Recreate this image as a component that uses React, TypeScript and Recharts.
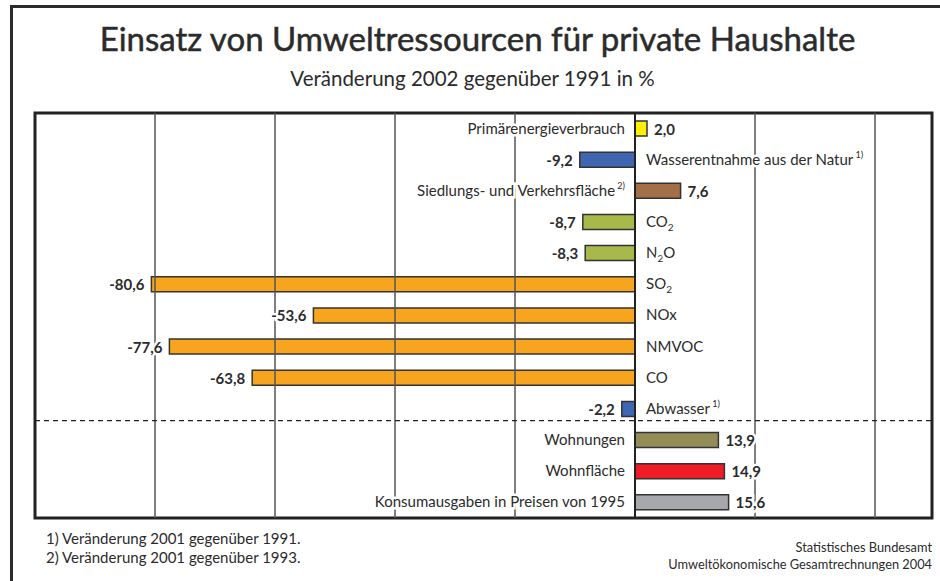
import React from 'react';
import { BarChart, Bar, XAxis, YAxis, Cell, LabelList, ReferenceLine, ReferenceArea } from 'recharts';

// "_x" = subscript, "^x)" = superscript footnote marker
const categories = [
  'Primärenergieverbrauch',
  'Wasserentnahme aus der Natur^1)',
  'Siedlungs- und Verkehrsfläche^2)',
  'CO_2',
  'N_2O',
  'SO_2',
  'NOx',
  'NMVOC',
  'CO',
  'Abwasser^1)',
  'Wohnungen',
  'Wohnfläche',
  'Konsumausgaben in Preisen von 1995',
];

const values = [2.0, -9.2, 7.6, -8.7, -8.3, -80.6, -53.6, -77.6, -63.8, -2.2, 13.9, 14.9, 15.6];

const colors = [
  '#FFF200', '#3F67B1', '#A36F47', '#A9B84B', '#A9B84B', '#F7A51F', '#F7A51F',
  '#F7A51F', '#F7A51F', '#3F67B1', '#948C57', '#EE1C25', '#A6A8AB',
];

const gridTicks = [-80, -60, -40, -20, 20, 40];

const data = categories.map((name, i) => ({ name, value: values[i], color: colors[i] }));

const FONT = 'Lato, "Noto Sans", sans-serif';
const INK = '#2b2b2b';

const fmt = (v: number) => v.toFixed(1).replace('.', ',');

// split "CO_2" / "Abwasser^1)" into tspans
const richText = (label: string) => {
  const parts: React.ReactNode[] = [];
  let shift = 0;
  label.split(/(_\d|\^\d\))/).forEach((t, k) => {
    if (!t) return;
    if (t.startsWith('_')) {
      parts.push(<tspan key={k} fontSize={10} dy={4 - shift}>{t.slice(1)}</tspan>);
      shift = 4;
    } else if (t.startsWith('^')) {
      parts.push(<tspan key={k} fontSize={9} dy={-7 - shift}>{'\u00a0' + t.slice(1)}</tspan>);
      shift = -7;
    } else {
      parts.push(<tspan key={k} dy={-shift}>{t}</tspan>);
      shift = 0;
    }
  });
  return parts;
};

const CategoryLabel = (props: any) => {
  const { x, y, height, value, index } = props;
  const left = values[index] >= 0;
  return (
    <text
      x={left ? x - 10 : x + 11}
      y={y + height / 2 + 5}
      textAnchor={left ? 'end' : 'start'}
      fontFamily={FONT}
      fontSize={15}
      fill={INK}
      stroke="#fff"
      strokeWidth={5}
      paintOrder="stroke"
    >
      {richText(value)}
    </text>
  );
};

const ValueLabel = (props: any) => {
  const { x, y, width, height, value } = props;
  const v = Number(value);
  const end = x + width;
  return (
    <text
      x={v >= 0 ? end + 7 : end - 7}
      y={y + height / 2 + 6}
      textAnchor={v >= 0 ? 'start' : 'end'}
      fontFamily={FONT}
      fontSize={15}
      fontWeight={700}
      fill={INK}
      stroke="#fff"
      strokeWidth={5}
      paintOrder="stroke"
    >
      {fmt(v)}
    </text>
  );
};

// divider between the environment block and the household block, drawn a bit above the band edge
const Divider = (props: any) => {
  const { x1, y1, x2, y2 } = props;
  return <line x1={x1} y1={y1 - 4} x2={x2} y2={y2 - 4} stroke="#222" strokeWidth={1.2} strokeDasharray="5 4" />;
};

export default function App() {
  return (
    <div style={{ position: 'absolute', left: 0, top: 0, width: 940, height: 581, background: '#fff', fontFamily: FONT, color: INK, overflow: 'hidden' }}>
      {/* outer frame, only top and left edge visible */}
      <div style={{ position: 'absolute', left: 10, top: 5, width: 940, height: 600, borderTop: '3px solid #2b2b2b', borderLeft: '3px solid #2b2b2b' }} />
      <div style={{ position: 'absolute', left: 0, top: 18, width: 955, textAlign: 'center', fontSize: 33, fontWeight: 400, WebkitTextStroke: '0.5px #2b2b2b' }}>
        Einsatz von Umweltressourcen für private Haushalte
      </div>
      <div style={{ position: 'absolute', left: 0, top: 66, width: 945, textAlign: 'center', fontSize: 20.5 }}>
        Veränderung 2002 gegenüber 1991 in %
      </div>
      <div style={{ position: 'absolute', left: 0, top: 0 }}>
        <BarChart
          width={940}
          height={581}
          data={data}
          layout="vertical"
          margin={{ top: 113, right: 8, bottom: 63, left: 35 }}
          barSize={15}
        >
          <XAxis type="number" domain={[-100, 49.5]} hide allowDataOverflow />
          <YAxis type="category" dataKey="name" hide />
          {gridTicks.map((t) => (
            <ReferenceLine key={t} x={t} stroke="#555" strokeWidth={1.5} />
          ))}
          <Bar dataKey="value" stroke="#333" strokeWidth={1.5} isAnimationActive={false}>
            {data.map((d, i) => (
              <Cell key={i} fill={d.color} />
            ))}
            <LabelList dataKey="value" content={ValueLabel} />
            <LabelList dataKey="name" content={CategoryLabel} />
          </Bar>
          <ReferenceLine y="Abwasser^1)" position="end" shape={Divider} />
          <ReferenceLine x={0} stroke="#222" strokeWidth={2} />
          <ReferenceArea x1={-100} x2={49.5} fill="none" stroke="#222" strokeWidth={3} ifOverflow="visible" />
        </BarChart>
      </div>
      <div style={{ position: 'absolute', left: 46, top: 529, fontSize: 15, lineHeight: '19px' }}>
        <div>1) Veränderung 2001 gegenüber 1991.</div>
        <div>2) Veränderung 2001 gegenüber 1993.</div>
      </div>
      <div style={{ position: 'absolute', right: 8, top: 539, fontSize: 12.8, lineHeight: '17px', textAlign: 'right' }}>
        <div>Statistisches Bundesamt</div>
        <div>Umweltökonomische Gesamtrechnungen 2004</div>
      </div>
    </div>
  );
}
